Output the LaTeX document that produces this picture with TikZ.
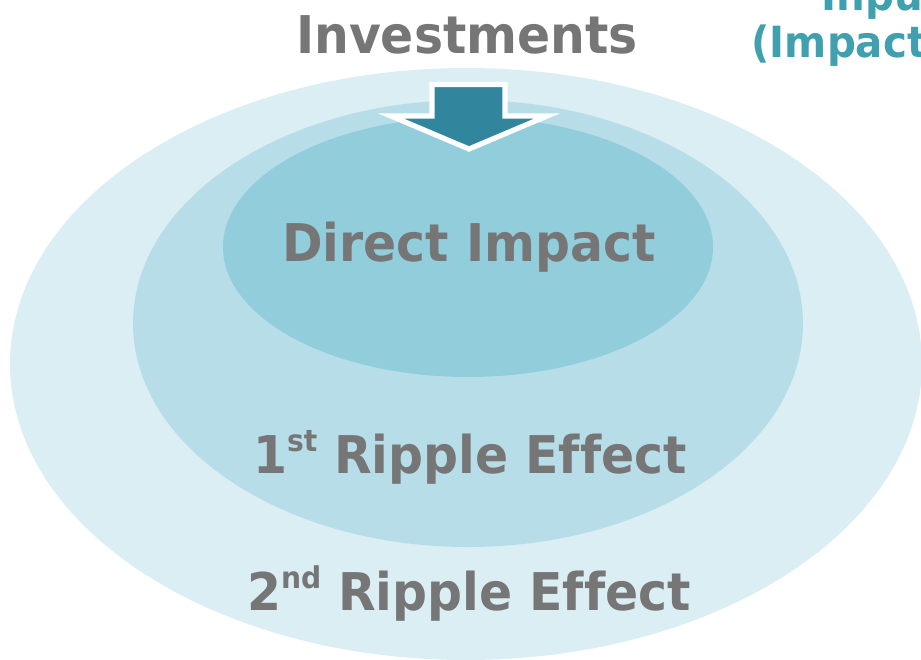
\documentclass[tikz,border=0pt]{standalone}
\usepackage{fontspec}
\setmainfont[Ligatures=NoCommon, FakeStretch=0.94]{DejaVu Sans}
\usepackage{tikz}
\usetikzlibrary{shapes,positioning}
\definecolor{ringouter}{RGB}{218, 238, 243}
\definecolor{ringmid}{RGB}{183, 222, 232}
\definecolor{ringinner}{RGB}{146, 205, 220}
\definecolor{arrowteal}{RGB}{49, 133, 156}
\definecolor{labelgrey}{RGB}{118, 118, 118}
\definecolor{headteal}{RGB}{64, 160, 176}
\newcommand{\upsc}[1]{\raisebox{0.74ex}{\fontsize{15}{15}\selectfont #1}}

\begin{document}
\begin{tikzpicture}[x=0.5pt, y=-0.5pt,
    ring/.style={ellipse, draw=none, inner sep=0pt},
    biglabel/.style={labelgrey, font=\fontsize{26}{30}\selectfont\bfseries, anchor=base, inner sep=0pt},
    cutlabel/.style={headteal, font=\fontsize{21.5}{24}\selectfont\bfseries, anchor=base west, inner sep=0pt}]
            \useasboundingbox (0,0) rectangle (921,659);
            \clip (0,0) rectangle (921,659);

            % Rings
            \node[ring, fill=ringouter, minimum width=456pt, minimum height=296pt] (outer) at (466,364) {};
            \node[ring, fill=ringmid, minimum width=335pt, minimum height=223.5pt] (ripple) at (468,323.5) {};
            \node[ring, fill=ringinner, minimum width=245pt, minimum height=130pt] (direct) at (468,247) {};

            % Investment arrow
            \draw[fill=arrowteal, draw=white, line width=2.6pt, line join=miter]
                (432,84.5) -- (505,84.5) -- (505,116) -- (547,116) -- (469,149)
                -- (391,116) -- (432,116) -- cycle;

            % Labels
            \node[biglabel] (invest) at (467,53) {Investments};
            \node[biglabel] (directlbl) at (469,261) {Direct Impact};
            \node[biglabel] (firstlbl) at (470,473) {1\upsc{st} Ripple Effect};
            \node[biglabel] (secondlbl) at (469,610) {2\upsc{nd} Ripple Effect};

            % Cut-off heading at the right
            \node[cutlabel] (inpu) at (821,10) {Inpu};
            \node[cutlabel] (impactlbl) at (751,57) {(Impact};
        \end{tikzpicture}
\end{document}
